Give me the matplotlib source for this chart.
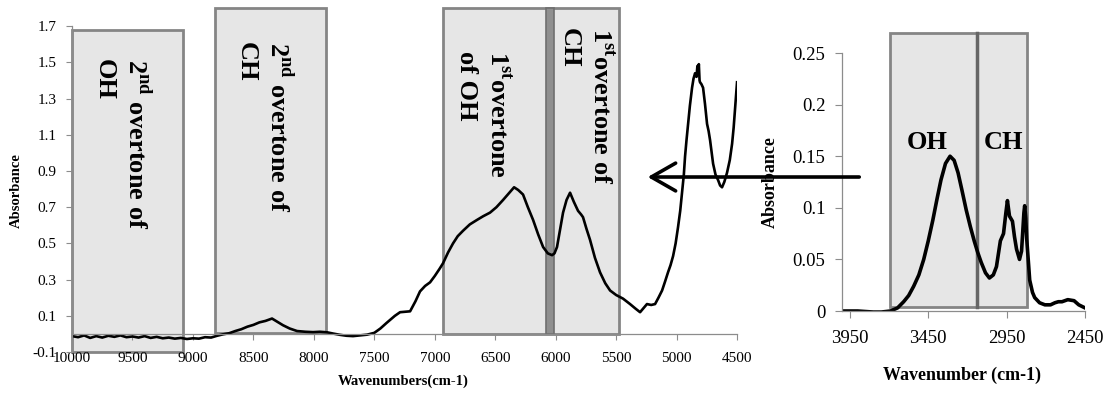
import matplotlib
matplotlib.use("Agg")
import matplotlib.pyplot as plt
from matplotlib.patches import Rectangle, FancyArrowPatch

plt.rcParams['font.family'] = ['Liberation Serif', 'DejaVu Serif']
plt.rcParams['mathtext.fontset'] = 'custom'
plt.rcParams['mathtext.rm'] = 'Liberation Serif:bold'
plt.rcParams['mathtext.bf'] = 'Liberation Serif:bold'

# NIR spectrum (overtone region)
nir_wn = [10000, 9950, 9900, 9850, 9800, 9750, 9700, 9650, 9600, 9550, 9500, 9450,
          9400, 9350, 9300, 9250, 9200, 9150, 9100, 9050, 9000, 8950, 8900, 8850,
          8800, 8750, 8700, 8650, 8600, 8550, 8500, 8450, 8400, 8346, 8300, 8255,
          8200, 8139, 8070, 8007, 7950, 7891, 7840, 7783, 7730, 7676, 7620, 7560,
          7500, 7450, 7400, 7370, 7330, 7287, 7250, 7204, 7160, 7122, 7080, 7039,
          7000, 6960, 6932, 6890, 6849, 6810, 6766, 6710, 6650, 6600, 6543, 6490,
          6435, 6390, 6344, 6310, 6270, 6230, 6187, 6145, 6104, 6065, 6030, 6010,
          5989, 5965, 5939, 5910, 5881, 5850, 5815, 5790, 5774, 5745, 5716, 5675,
          5633, 5590, 5550, 5500, 5443, 5385, 5340, 5302, 5270, 5245, 5210, 5178,
          5150, 5120, 5095, 5071, 5050, 5029, 5008, 4988, 4970, 4955, 4940, 4930,
          4918, 4905, 4890, 4872, 4860, 4847, 4835, 4828, 4822, 4816, 4810, 4806,
          4795, 4781, 4765, 4748, 4735, 4723, 4710, 4698, 4678, 4657, 4640, 4624,
          4605, 4583, 4560, 4541, 4528, 4516, 4508, 4500]
nir_abs = [-0.012, -0.018, -0.008, -0.022, -0.012, -0.020, -0.010, -0.016, -0.008, -0.018,
           -0.014, -0.020, -0.012, -0.022, -0.016, -0.024, -0.020, -0.026, -0.022, -0.028,
           -0.024, -0.026, -0.018, -0.020, -0.010, -0.002, 0.004, 0.016, 0.026, 0.040,
           0.050, 0.064, 0.072, 0.085, 0.066, 0.048, 0.030, 0.016, 0.012, 0.010,
           0.012, 0.009, 0.002, -0.005, -0.010, -0.012, -0.008, -0.004, 0.006, 0.030,
           0.060, 0.077, 0.100, 0.120, 0.122, 0.125, 0.180, 0.235, 0.265, 0.285,
           0.320, 0.360, 0.390, 0.450, 0.500, 0.540, 0.570, 0.605, 0.630, 0.650,
           0.670, 0.700, 0.740, 0.775, 0.810, 0.795, 0.770, 0.700, 0.630, 0.550,
           0.480, 0.445, 0.435, 0.445, 0.480, 0.570, 0.670, 0.740, 0.780, 0.730,
           0.680, 0.660, 0.645, 0.580, 0.520, 0.420, 0.340, 0.280, 0.240, 0.215,
           0.195, 0.165, 0.140, 0.120, 0.145, 0.165, 0.160, 0.165, 0.200, 0.240,
           0.290, 0.340, 0.380, 0.430, 0.500, 0.590, 0.680, 0.780, 0.880, 0.980,
           1.070, 1.160, 1.260, 1.360, 1.410, 1.440, 1.420, 1.480, 1.440, 1.490,
           1.400, 1.390, 1.380, 1.360, 1.270, 1.160, 1.120, 1.070, 1.000, 0.940,
           0.880, 0.850, 0.820, 0.810, 0.840, 0.890, 0.960, 1.050, 1.140, 1.250,
           1.320, 1.390]

# mid-IR fundamental region
mir_wn = [4000, 3900, 3800, 3750, 3691, 3646, 3607, 3575, 3543, 3510, 3479, 3450,
          3421, 3395, 3369, 3340, 3311, 3285, 3260, 3235, 3208, 3182, 3157, 3135,
          3112, 3085, 3060, 3035, 3015, 3000, 2990, 2970, 2955, 2945, 2932, 2913,
          2900, 2887, 2868, 2855, 2848, 2840, 2835, 2828, 2822, 2810, 2803, 2785,
          2771, 2740, 2706, 2670, 2642, 2620, 2597, 2560, 2520, 2490, 2450]
mir_abs = [0.0, 0.0, -0.001, -0.001, 0.0, 0.003, 0.009, 0.015, 0.024, 0.035, 0.050, 0.068,
           0.088, 0.108, 0.127, 0.143, 0.150, 0.146, 0.134, 0.117, 0.098, 0.082, 0.068, 0.057,
           0.047, 0.037, 0.032, 0.035, 0.043, 0.058, 0.068, 0.075, 0.095, 0.107, 0.092, 0.087,
           0.072, 0.060, 0.050, 0.058, 0.075, 0.095, 0.102, 0.090, 0.070, 0.045, 0.030, 0.018,
           0.013, 0.008, 0.006, 0.006, 0.008, 0.009, 0.009, 0.011, 0.010, 0.006, 0.003]

# overtone bands: (high wn, low wn, bottom, top)
nir_bands = [(10000, 9083, -0.1, 1.68), (8818, 7901, 0.005, 1.80), (6934, 5479, 0.0, 1.80)]
nir_overlap = (6083, 6017)
nir_labels = ['2$^{\\mathrm{nd}}$ overtone of\nOH', '2$^{\\mathrm{nd}}$ overtone of\nCH',
              '1$^{\\mathrm{st}}$overtone\nof OH', '1$^{\\mathrm{st}}$overtone of\nCH']
nir_label_pos = [(9585, 1.52), (8410, 1.61), (6600, 1.565), (5750, 1.69)]

mir_bands = [(3691, 3138), (3138, 2822)]
mir_band_y = (0.004, 0.269)
mir_labels = ['OH', 'CH']
mir_label_pos = [(3459, 0.163), (2970, 0.163)]

axis_grey = '#8c8c8c'
box_face = '#e6e6e6'
box_edge = '#858585'

fig = plt.figure(figsize=(11.1, 3.96), dpi=100)
ax1 = fig.add_axes([0.0649, 0.111, 0.5991, 0.823])
ax2 = fig.add_axes([0.7586, 0.2146, 0.2189, 0.6515])

# --- left panel
for hi, lo, b, t in nir_bands:
    ax1.add_patch(Rectangle((lo, b), hi - lo, t - b, facecolor=box_face,
                            edgecolor=box_edge, lw=2.0, zorder=1, clip_on=False))
ax1.add_patch(Rectangle((nir_overlap[1], 0.0), nir_overlap[0] - nir_overlap[1], 1.80,
                        facecolor='#8f8f8f', edgecolor='#6f6f6f', lw=1.2, zorder=1.5,
                        clip_on=False))
for txt, (x, y) in zip(nir_labels, nir_label_pos):
    ax1.text(x, y, txt, rotation=-90, ha='center', va='top', multialignment='left',
             fontsize=19, fontweight='bold', linespacing=1.4, zorder=3)

ax1.plot(nir_wn, nir_abs, color='black', lw=1.9, zorder=2)
ax1.set_xlim(10000, 4500)
ax1.set_ylim(-0.1, 1.7)
ax1.set_xticks(range(10000, 4499, -500))
ax1.set_yticks([-0.1, 0.1, 0.3, 0.5, 0.7, 0.9, 1.1, 1.3, 1.5, 1.7])
ax1.set_yticklabels(['-0.1', '0.1', '0.3', '0.5', '0.7', '0.9', '1.1', '1.3', '1.5', '1.7'])
ax1.spines['bottom'].set_position(('data', 0))
ax1.spines[['top', 'right']].set_visible(False)
for s in ('left', 'bottom'):
    ax1.spines[s].set_color(axis_grey)
    ax1.spines[s].set_linewidth(0.9)
ax1.tick_params(axis='x', direction='out', length=4, color=axis_grey, labelsize=11, pad=9)
ax1.tick_params(axis='y', direction='out', length=4, color=axis_grey, labelsize=11, pad=7)
ax1.set_xlabel('Wavenumbers(cm-1)', fontsize=10.5, fontweight='bold')
ax1.set_ylabel('Absorbance', fontsize=10.5, fontweight='bold')
ax1.xaxis.label.set_va('center')
ax1.yaxis.label.set_va('center')
ax1.xaxis.set_label_coords(0.498, -0.089)
ax1.yaxis.set_label_coords(-0.083, 0.497)
ax1.patch.set_alpha(0)

# --- right panel
for hi, lo in mir_bands:
    ax2.add_patch(Rectangle((lo, mir_band_y[0]), hi - lo, mir_band_y[1] - mir_band_y[0],
                            facecolor=box_face, edgecolor=box_edge, lw=2.0, zorder=1,
                            clip_on=False))
ax2.axvline(mir_bands[0][1], ymin=mir_band_y[0] / 0.25, ymax=mir_band_y[1] / 0.25,
            color='#666666', lw=2.5, zorder=1.5, clip_on=False)
for txt, (x, y) in zip(mir_labels, mir_label_pos):
    ax2.text(x, y, txt, ha='center', va='center', fontsize=19, fontweight='bold', zorder=3)

ax2.plot(mir_wn, mir_abs, color='black', lw=2.6, zorder=2)
ax2.set_xlim(4000, 2450)
ax2.set_ylim(0, 0.25)
ax2.set_xticks([3950, 3450, 2950, 2450])
ax2.set_yticks([0, 0.05, 0.1, 0.15, 0.2, 0.25])
ax2.set_yticklabels(['0', '0.05', '0.1', '0.15', '0.2', '0.25'])
ax2.spines[['top', 'right']].set_visible(False)
for s in ('left', 'bottom'):
    ax2.spines[s].set_color(axis_grey)
    ax2.spines[s].set_linewidth(0.9)
ax2.tick_params(axis='x', direction='out', length=5, color=axis_grey, labelsize=13.5, pad=9)
ax2.tick_params(axis='y', direction='out', length=5, color=axis_grey, labelsize=13.5, pad=7)
ax2.set_xlabel('Wavenumber (cm-1)', fontsize=13, fontweight='bold')
ax2.set_ylabel('Absorbance', fontsize=13, fontweight='bold')
ax2.xaxis.label.set_va('center')
ax2.yaxis.label.set_va('center')
ax2.xaxis.set_label_coords(0.494, -0.248)
ax2.yaxis.set_label_coords(-0.296, 0.498)
ax2.patch.set_alpha(0)

# arrow pointing from the inset back to the NIR panel
fig.add_artist(FancyArrowPatch(
    (0.7766, 0.553), (0.581, 0.553), transform=fig.transFigure,
    arrowstyle='->,head_length=7,head_width=4', lw=2.6, color='black',
    mutation_scale=2.5, zorder=5))

fig.savefig('out.png', dpi=100)
